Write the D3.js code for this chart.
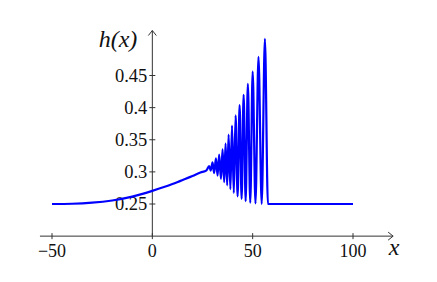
<!DOCTYPE html>
<html>
<head>
<meta charset="utf-8">
<script src="https://cdn.jsdelivr.net/npm/d3@7"></script>
<style>
  html, body { margin: 0; padding: 0; background: #fff; }
</style>
</head>
<body>
<svg id="chart" width="437" height="282"></svg>
<script>
// data: smooth rise, then the oscillating front
const xs = [-50, -40, -30, -20, -10, 0, 10, 14, 20, 24, 27,
  28.3, 29.1, 30.0, 30.8, 31.7, 32.5, 33.3, 34.2, 35.0, 35.8, 36.5, 37.3,
  38.0, 38.9, 39.7, 40.6, 41.5, 42.5, 43.5, 44.5, 45.5, 46.5, 47.6, 48.8,
  50.0, 51.4, 52.9, 54.5, 56.1, 57.6, 100];
const hs = [0.2500, 0.2504, 0.2520, 0.2555, 0.2615, 0.2705, 0.2810, 0.2860, 0.2935, 0.2990, 0.3025,
  0.309, 0.302, 0.315, 0.298, 0.321, 0.294, 0.327, 0.289, 0.335, 0.284, 0.344, 0.279,
  0.358, 0.273, 0.372, 0.267, 0.388, 0.262, 0.404, 0.258, 0.420, 0.2545, 0.437, 0.252,
  0.456, 0.2508, 0.479, 0.2502, 0.507, 0.2500, 0.2500];

const xTicks = [-50, 0, 50, 100];
const yTicks = [0.25, 0.3, 0.35, 0.4, 0.45];
const xTickLabels = ["\u221250", "0", "50", "100"];
const yTickLabels = ["0.25", "0.3", "0.35", "0.4", "0.45"];

const serif = "'Liberation Serif', 'Times New Roman', serif";

const svg = d3.select("#chart");

const x = d3.scaleLinear().domain([-50, 100]).range([52, 353]);
const y = d3.scaleLinear().domain([0.25, 0.45]).range([204, 75.5]);

const axisColor = "#333";
const x0 = x(0), y0 = y(0.2);
const xEnd = x(120), yTop = y(0.52);

// x axis with arrow
svg.append("line")
  .attr("x1", x(-56)).attr("x2", xEnd)
  .attr("y1", y0).attr("y2", y0)
  .attr("stroke", axisColor);
svg.append("path")
  .attr("d", `M${xEnd - 5},${y0 - 4} L${xEnd},${y0} L${xEnd - 5},${y0 + 4}`)
  .attr("fill", "none").attr("stroke", axisColor);

// y axis with arrow
svg.append("line")
  .attr("x1", x0).attr("x2", x0)
  .attr("y1", y0).attr("y2", yTop)
  .attr("stroke", axisColor);
svg.append("path")
  .attr("d", `M${x0 - 4},${yTop + 5} L${x0},${yTop} L${x0 + 4},${yTop + 5}`)
  .attr("fill", "none").attr("stroke", axisColor);

// x ticks
svg.selectAll(".xtick").data(xTicks).enter().append("line")
  .attr("x1", d => x(d)).attr("x2", d => x(d))
  .attr("y1", y0 - 3).attr("y2", y0 + 3)
  .attr("stroke", axisColor);
svg.selectAll(".xlab").data(xTicks).enter().append("text")
  .attr("x", d => x(d)).attr("y", y0 + 21)
  .attr("text-anchor", "middle")
  .attr("font-family", serif).attr("font-size", 18).attr("fill", "#111")
  .text((d, i) => xTickLabels[i]);

// y ticks
svg.selectAll(".ytick").data(yTicks).enter().append("line")
  .attr("x1", x0 - 3).attr("x2", x0 + 3)
  .attr("y1", d => y(d)).attr("y2", d => y(d))
  .attr("stroke", axisColor);
svg.selectAll(".ylab").data(yTicks).enter().append("text")
  .attr("x", x0 - 5).attr("y", d => y(d))
  .attr("dy", "0.35em")
  .attr("text-anchor", "end")
  .attr("font-family", serif).attr("font-size", 18.5).attr("fill", "#111")
  .text((d, i) => yTickLabels[i]);

// axis labels
svg.append("text")
  .attr("x", 118).attr("y", 47)
  .attr("text-anchor", "middle")
  .attr("font-family", serif).attr("font-size", 24).attr("font-style", "italic").attr("fill", "#111")
  .text("h(x)");
svg.append("text")
  .attr("x", 394).attr("y", 255)
  .attr("text-anchor", "middle")
  .attr("font-family", serif).attr("font-size", 24).attr("font-style", "italic").attr("fill", "#111")
  .text("x");

// the curve
const pts = xs.map((d, i) => [d, hs[i]]);
const line = d3.line()
  .x(d => x(d[0]))
  .y(d => y(d[1]))
  .curve(d3.curveMonotoneX);
svg.append("path")
  .datum(pts)
  .attr("d", line)
  .attr("fill", "none")
  .attr("stroke", "#0000ff")
  .attr("stroke-width", 2.2)
  .attr("stroke-linejoin", "round");
</script>
</body>
</html>
